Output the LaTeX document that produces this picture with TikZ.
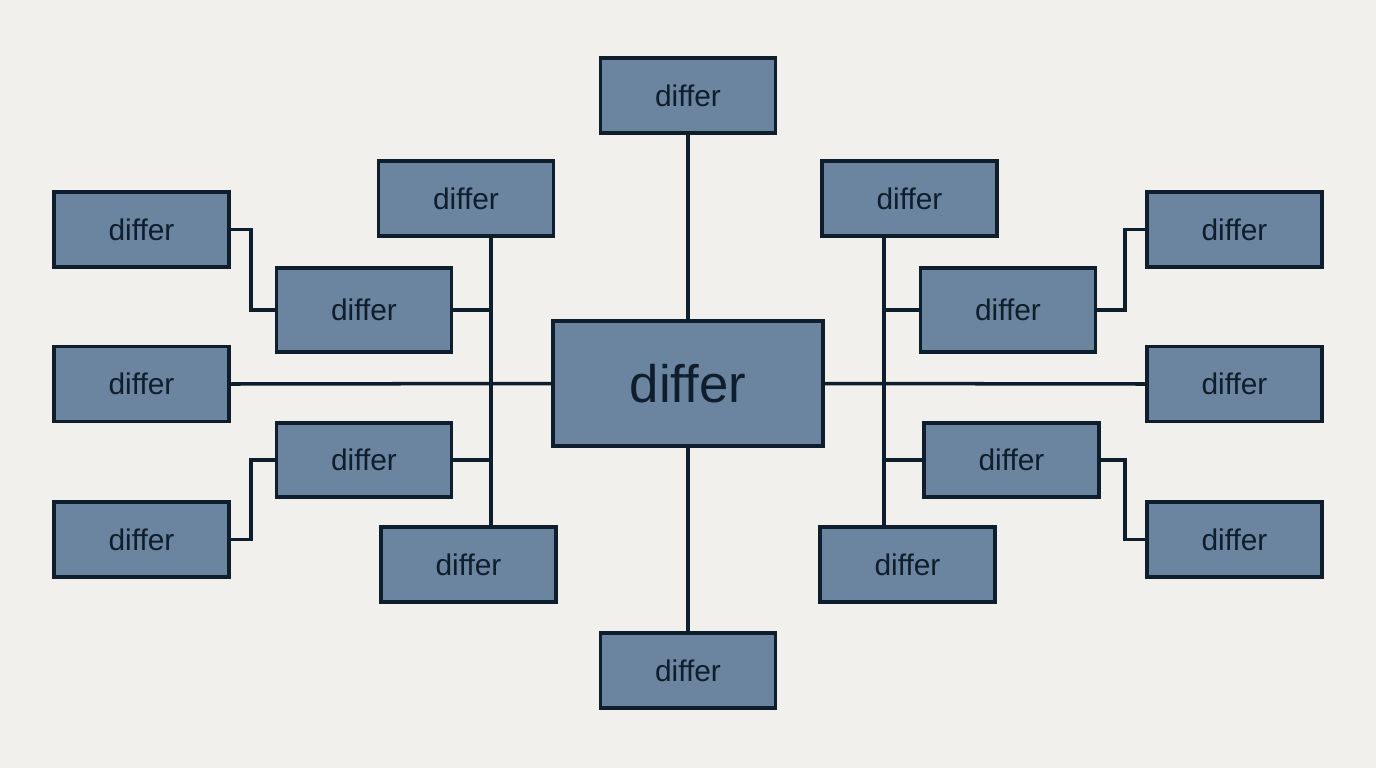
\documentclass[tikz,border=0pt]{standalone}
\usepackage{fontspec}
\setmainfont{Liberation Sans}
\begin{document}
\begin{tikzpicture}[x=0.02cm,y=-0.02cm,
 bx/.style={draw=lc,fill=bf,line width=2pt,minimum width=3.5cm,minimum height=1.5cm,inner sep=0pt,font=\fontsize{17}{20}\selectfont,text=tc},
 ln/.style={draw=lc,line width=2pt}]
\definecolor{lc}{HTML}{0F1E2C}\definecolor{bf}{HTML}{6B84A0}\definecolor{tc}{HTML}{0F1E2C}
\fill[fill={rgb,255:red,241;green,240;blue,236}] (0,0) rectangle (1376,768);
\useasboundingbox (0,0) rectangle (1376,768);
\node[bx,minimum width=5.4cm,minimum height=2.5cm,font=\fontsize{30}{34}\selectfont] (c) at (688,383.5) {differ};
\node[bx] (t) at (688,95.5) {differ};
\node[bx] (b) at (688,670.5) {differ};
\node[bx] (l1) at (141.5,229.5) {differ};
\node[bx] (l2) at (141.5,384) {differ};
\node[bx] (l3) at (141.5,539.5) {differ};
\node[bx] (m1) at (466,198.5) {differ};
\node[bx,minimum height=1.68cm] (m2) at (364,310) {differ};
\node[bx,minimum height=1.48cm] (m3) at (364,460) {differ};
\node[bx] (m4) at (468.5,564.5) {differ};
\node[bx] (r1) at (909.5,198.5) {differ};
\node[bx,minimum height=1.68cm] (r2) at (1008,310) {differ};
\node[bx,minimum height=1.48cm] (r3) at (1011.5,460) {differ};
\node[bx] (r4) at (907.5,564.5) {differ};
\node[bx] (o1) at (1234.5,229.5) {differ};
\node[bx] (o2) at (1234.5,384) {differ};
\node[bx] (o3) at (1234.5,539.5) {differ};
\begin{scope}[on background layer/.style={}]
\end{scope}
\draw[ln] (t.south) -- (c.north);
\draw[ln] (c.south) -- (b.north);
\draw[ln] (l2.east) -- (c.west);
\draw[ln] (c.east) -- (o2.west);
\draw[ln] (m1.south -| 491,0) -- (m4.north -| 491,0);
\draw[ln] (m2.east) -- (491,310);
\draw[ln] (m3.east) -- (491,460);
\draw[ln] (l1.east) -- (251,229.5) -- (251,310) -- (m2.west);
\draw[ln] (l3.east) -- (251,539.5) -- (251,460) -- (m3.west);
\draw[ln] (r1.south -| 884,0) -- (r4.north -| 884,0);
\draw[ln] (884,310) -- (r2.west);
\draw[ln] (884,460) -- (r3.west);
\draw[ln] (r2.east) -- (1125,310) -- (1125,229.5) -- (o1.west);
\draw[ln] (r3.east) -- (1125,460) -- (1125,539.5) -- (o3.west);
\end{tikzpicture}
\end{document}
